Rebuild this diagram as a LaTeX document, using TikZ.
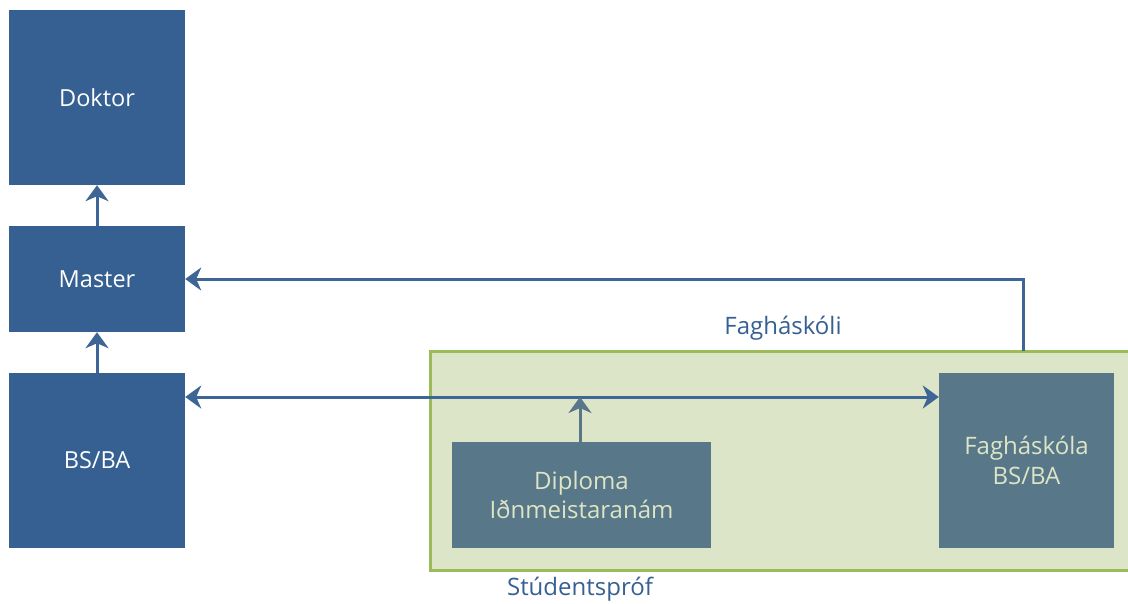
\documentclass[tikz,border=0pt]{standalone}
\usepackage{fontspec}
\setmainfont{Open Sans}
\usetikzlibrary{arrows.meta}
\definecolor{lvlblue}{HTML}{366092}
\definecolor{fagslate}{HTML}{587789}
\definecolor{fagfill}{HTML}{DDE5C8}
\definecolor{fagline}{HTML}{9BBB59}
\definecolor{fagtext}{HTML}{DDE5C5}
\definecolor{linkblue}{HTML}{3D6595}
\begin{document}
\begin{tikzpicture}[x=1pt,y=-1pt,
  level/.style={fill=lvlblue,text=white,minimum width=176pt,inner sep=0pt,font=\fontsize{23.5}{28}\selectfont},
  fagbox/.style={fill=fagslate,text=fagtext,inner sep=0pt,align=center,font=\fontsize{24}{29.5}\selectfont},
  link/.style={draw=linkblue,line width=3pt,-{Stealth[length=16pt,width=23pt,inset=5pt]}},
  both/.style={{Stealth[length=16pt,width=23pt,inset=5pt]}-{Stealth[length=16pt,width=23pt,inset=5pt]}},
  caption/.style={text=lvlblue,font=\fontsize{24}{28}\selectfont}]
\useasboundingbox (0,0) rectangle (1128,603);
% green zone
\draw [fagline,fill=fagfill,line width=3pt] (430,351) rectangle (1140,570);
\node [caption] (fagcap) at (783,328) {Fagháskóli};
\node [caption] (studcap) at (580,589) {Stúdentspróf};
% university levels
\node [level,minimum height=175pt] (doktor) at (97,97.5) {Doktor};
\node [level,minimum height=106pt] (master) at (97,279) {Master};
\node [level,minimum height=175pt] (bsba) at (97,460.5) {BS/BA};
% inside the zone
\node [fagbox,minimum width=259pt,minimum height=106pt] (diploma) at (581.5,495) {Diploma\\Iðnmeistaranám};
\node [fagbox,minimum width=175pt,minimum height=175pt] (fag) at (1026.5,460.5) {Fagháskóla\\BS/BA};
\coordinate (row) at (0,397);
\coordinate (up) at (1023,351);
% links
\draw [link] (bsba.north) -- (master.south);
\draw [link] (master.north) -- (doktor.south);
\draw [link,both] (bsba.east |- row) -- (fag.west |- row);
\draw [link,draw=fagslate] (diploma.north -| 580,0) -- (580,397);
\draw [link] (up) |- (master.east);
\end{tikzpicture}
\end{document}
